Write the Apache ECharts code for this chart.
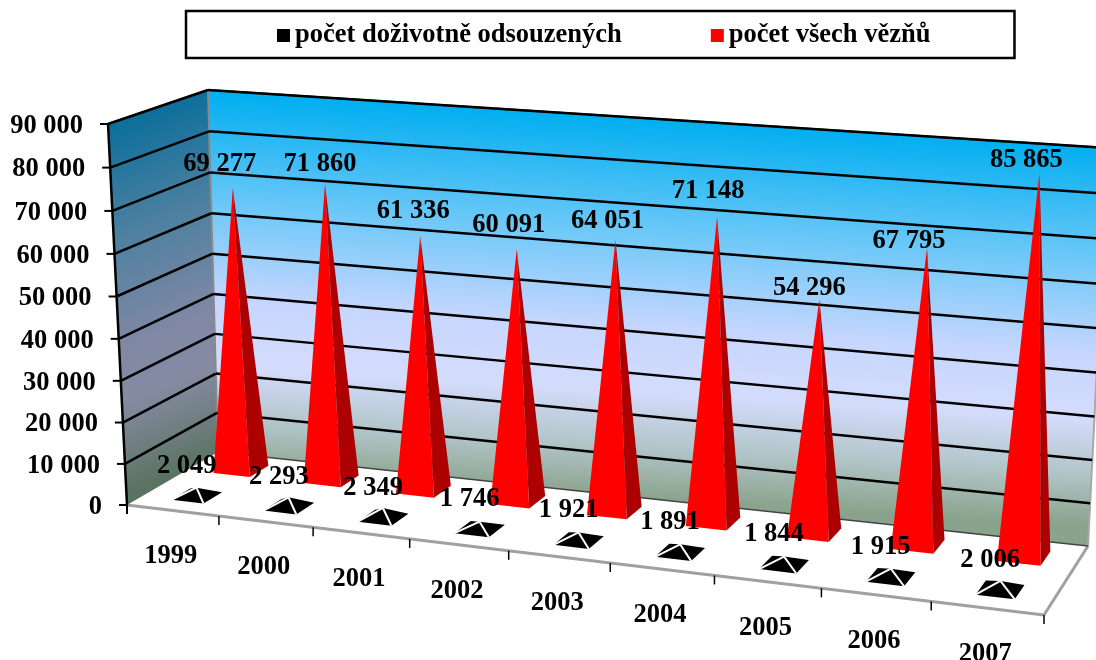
<!DOCTYPE html>
<html><head><meta charset="utf-8">
<style>html,body{margin:0;padding:0;background:#fff}#c{width:1096px;height:660px}</style>
<script src="https://cdn.jsdelivr.net/npm/echarts@6/dist/echarts.min.js"></script>
</head><body><div id="c"></div>
<script>
const categories = ['1999','2000','2001','2002','2003','2004','2005','2006','2007'];
const lifers = [2049,2293,2349,1746,1921,1891,1844,1915,2006];
const prisoners = [69277,71860,61336,60091,64051,71148,54296,67795,85865];
const yTicks = [0,10000,20000,30000,40000,50000,60000,70000,80000,90000];
const seriesNames = ['počet doživotně odsouzených','počet všech vězňů'];

// hand-placed offsets of the red value labels, relative to each apex
const redLabelShift = [[-13,-24],[-5,-20],[-7,-25],[-8,-24],[-8,-19],[-9,-26],[-10,-11],[-18,-6],[-13,-13]];

const FONT = '"Liberation Serif","Times New Roman",serif';
function fmt(v){return String(v).replace(/\B(?=(\d{3})+$)/g,' ');}
function homography(q){
  const [p0,p1,p2,p3]=q;
  const dx1=p1[0]-p2[0],dx2=p3[0]-p2[0],sx=p0[0]-p1[0]+p2[0]-p3[0];
  const dy1=p1[1]-p2[1],dy2=p3[1]-p2[1],sy=p0[1]-p1[1]+p2[1]-p3[1];
  const den=dx1*dy2-dx2*dy1;
  const g=(sx*dy2-dx2*sy)/den,h=(dx1*sy-sx*dy1)/den;
  const a=p1[0]-p0[0]+g*p1[0],b=p3[0]-p0[0]+h*p3[0],c=p0[0];
  const d=p1[1]-p0[1]+g*p1[1],e=p3[1]-p0[1]+h*p3[1],f=p0[1];
  return (u,v)=>{const w=g*u+h*v+1;return [(a*u+b*v+c)/w,(d*u+e*v+f)/w];};
}
// plane corners: (u0,v0),(u1,v0),(u1,v1),(u0,v1)
const front=homography([[127,505],[1044,615],[1058,190],[108,124]]);
const back =homography([[218,452],[1088,546],[1108,148],[208,90]]);
function P(u,v,d){const a=front(u,v),b=back(u,v);return [a[0]+(b[0]-a[0])*d,a[1]+(b[1]-a[1])*d];}
function uv(api,params,i,val){
  const c=api.coord([i,val]),s=params.coordSys;
  return [(c[0]-s.x)/s.width,(s.y+s.height-c[1])/s.height];
}
function poly(points,fill,z){return {type:'polygon',z2:z||1,shape:{points},style:{fill,stroke:null}};}
function line(a,b,stroke,w,z){return {type:'line',z2:z||2,shape:{x1:a[0],y1:a[1],x2:b[0],y2:b[1]},style:{stroke,lineWidth:w}};}
function text(x,y,t,align,z){return {type:'text',z2:z||5,x,y,style:{text:t,font:'bold 26.5px '+FONT,fill:'#000',align:align||'center',verticalAlign:'middle'}};}
function grad(x,y,x2,y2,stops){return new echarts.graphic.LinearGradient(x,y,x2,y2,stops.map(s=>({offset:s[0],color:s[1]})),true);}

const backFill=grad(656,118,633,498,[[0,'#00aef0'],[0.3,'#6cc8f8'],[0.55,'#c6d6fe'],[0.72,'#d4dcfc'],[0.87,'#b0c4c6'],[1,'#8aa38c']]);
const sideFill=grad(158,107,287,432,[[0,'#0c6f9b'],[0.3,'#4d80a0'],[0.6,'#8088a4'],[0.75,'#858ba2'],[1,'#5a7260']]);

function renderScene(params,api){
  const val=api.value(1),ch=[];
  const [,v]=uv(api,params,0,val);
  const a=P(0,v,0),b=P(0,v,1),e=P(1,v,1);
  if(params.dataIndex===0){
    ch.push(poly([P(0,0,0),P(1,0,0),P(1,0,1),P(0,0,1)],'#fff',1));
    const v1=uv(api,params,0,yTicks[yTicks.length-1])[1];
    ch.push(poly([P(0,0,1),P(1,0,1),P(1,v1,1),P(0,v1,1)],backFill,1));
    ch.push(poly([P(0,0,0),P(0,0,1),P(0,v1,1),P(0,v1,0)],sideFill,1));
    ch.push(line(P(0,0,1),P(0,v1,1),'#8a8a8a',2,2));
    ch.push(line(P(1,0,1),P(1,v1,1),'#a8a8a8',2,2));
    ch.push(line(P(0,0,0),P(1,0,0),'#a0a0a0',3,2));
    ch.push(line(P(1,0,0),P(1,0,1),'#a0a0a0',3,2));
    ch.push(line(P(1,0,1),P(0,0,1),'#444',1.5,2));
    ch.push(line(P(0,v1,0),P(0,v1,1),'#555',2,2));
    ch.push(line(P(0,v1,1),P(1,v1,1),'#444',2,2));
    ch.push(line(P(0,0,0),P(0,v1,0),'#000',2.5,3));
    ch.push(line(P(0,0,0),[P(0,0,0)[0],P(0,0,0)[1]+9],'#000',2,3));
  }
  if(val>0){ ch.push(line(a,b,'#000',2.5,2)); ch.push(line(b,e,'#000',2.5,2)); }
  ch.push(line(a,[a[0]-8,a[1]],'#000',2,3));
  ch.push(text(a[0]-25,a[1]+2,fmt(val),'right'));
  return {type:'group',children:ch};
}
function renderCats(params,api){
  const i=api.value(0),[u]=uv(api,params,i,0),ch=[];
  const st=1/categories.length, c=P(u,0,0), t=P(u+st/2,0,0);
  ch.push(line(t,[t[0],t[1]+9],'#000',1.5,3));
  ch.push(text(c[0]-2,c[1]+46,categories[i]));
  return {type:'group',children:ch};
}
function pyramid(params,api,row,hu){
  const i=api.value(0),val=api.value(1);
  const [u,v]=uv(api,params,i,val);
  const hd=0.105;
  const fl=P(u-hu,0,row-hd),fr=P(u+hu,0,row-hd),br=P(u+hu,0,row+hd),bl=P(u-hu,0,row+hd),apex=P(u,v,row);
  return {fl,fr,br,bl,apex};
}
function renderRed(params,api){
  const {fl,fr,br,apex}=pyramid(params,api,0.765,0.0225);
  const s=redLabelShift[api.value(0)];
  return {type:'group',children:[
    poly([fl,fr,apex],'#ff0000',3),
    poly([fr,br,apex],'#ad0000',3),
    text(apex[0]+s[0],apex[1]+s[1],fmt(api.value(1)),'center',8)
  ]};
}
function renderBlack(params,api){
  const {fl,fr,br,bl,apex}=pyramid(params,api,0.27,0.0195);
  const c=P(uv(api,params,api.value(0),0)[0],0,0.27);
  return {type:'group',children:[
    poly([fl,fr,br,apex,bl],'#000',4),
    line(apex,fl,'#fff',2,5),
    line(apex,fr,'#fff',2,5),
    text(c[0]-10,c[1]-30,fmt(api.value(1)),'center',8)
  ]};
}
const chart=echarts.init(document.getElementById('c'),null,{renderer:'canvas'});
chart.setOption({
  animation:false,
  backgroundColor:'#fff',
  grid:{left:100,top:100,width:800,height:400},
  xAxis:{type:'category',data:categories,show:false},
  yAxis:{type:'value',min:0,max:90000,interval:10000,show:false},
  legend:{
    left:186,top:11,data:seriesNames,icon:'rect',itemWidth:13,itemHeight:13,itemGap:89,
    padding:[11,84,9,91],borderColor:'#000',borderWidth:2.5,backgroundColor:'#fff',
    textStyle:{fontFamily:FONT,fontWeight:'bold',fontSize:26.5,color:'#000'},
    selectedMode:false
  },
  series:[
    {type:'custom',name:'scene',silent:true,z:1,clip:false,renderItem:renderScene,data:yTicks.map(v=>[0,v])},
    {type:'custom',name:'cats',silent:true,z:1,clip:false,renderItem:renderCats,data:categories.map((c,i)=>[i,0])},
    {type:'custom',name:seriesNames[1],silent:true,z:2,clip:false,itemStyle:{color:'#ff0000'},renderItem:renderRed,data:prisoners.map((v,i)=>[i,v])},
    {type:'custom',name:seriesNames[0],silent:true,z:3,clip:false,itemStyle:{color:'#000'},renderItem:renderBlack,data:lifers.map((v,i)=>[i,v])}
  ]
});
</script></body></html>
